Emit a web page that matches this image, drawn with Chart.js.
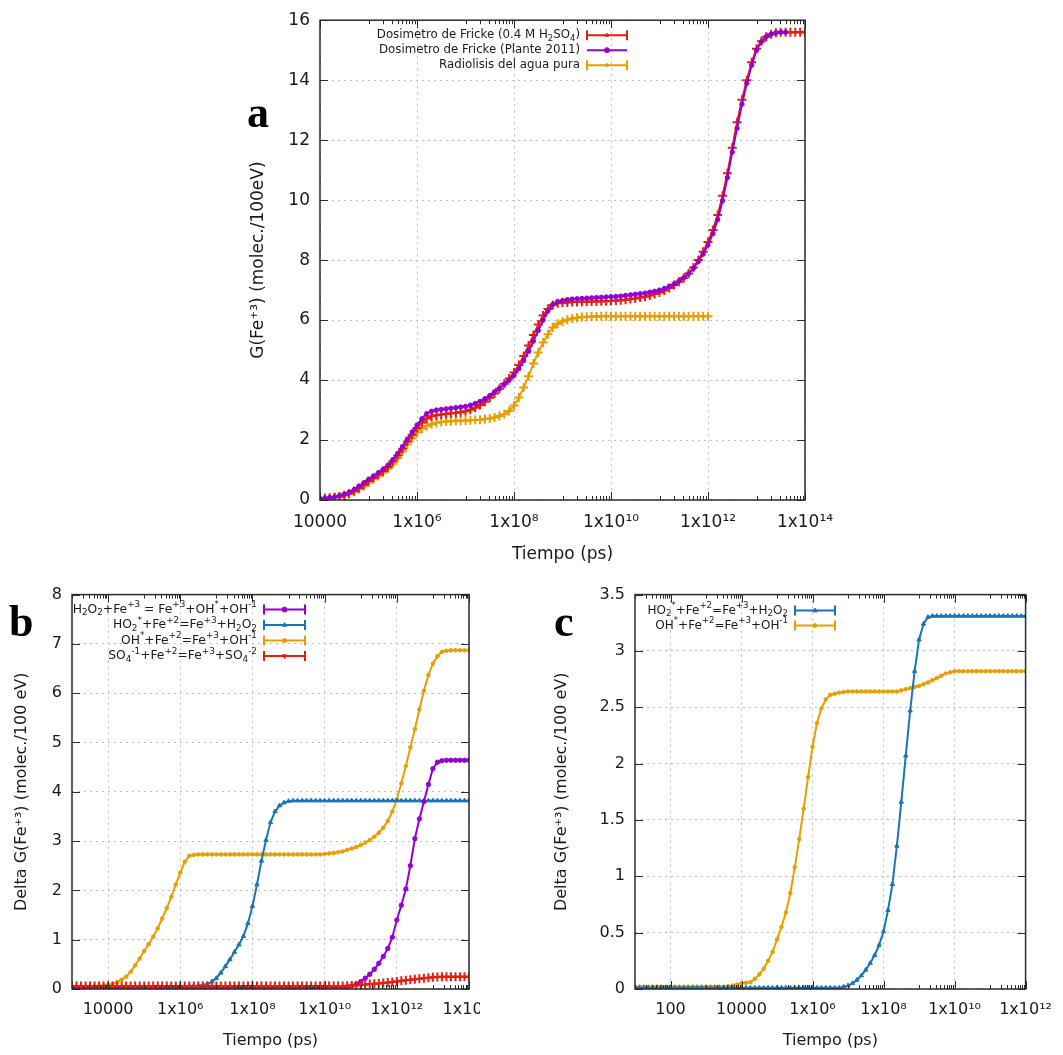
<!DOCTYPE html>
<html>
<head>
<meta charset="utf-8">
<script src="https://cdn.jsdelivr.net/npm/chart.js@4.4.1/dist/chart.umd.min.js"></script>
<style>
  body { margin: 0; background: #fff; }
  #page { position: relative; width: 1063px; height: 1055px; overflow: hidden; background: #fff; }
  .box { position: absolute; overflow: hidden; }
  .tag { position: absolute; font-family: "Liberation Serif", "DejaVu Serif", serif; font-weight: bold; font-size: 44px; line-height: 1; color: #000; }
</style>
</head>
<body>
<div id="page">
  <div class="box" style="left:240px;top:0;width:620px;height:570px"><canvas id="chartA" width="620" height="570"></canvas></div>
  <div class="box" style="left:0;top:575px;width:480px;height:480px"><canvas id="chartB" width="520" height="480"></canvas></div>
  <div class="box" style="left:540px;top:575px;width:523px;height:480px"><canvas id="chartC" width="523" height="480"></canvas></div>
  <div class="tag" style="left:247px;top:91px">a</div>
  <div class="tag" style="left:9px;top:600px">b</div>
  <div class="tag" style="left:554px;top:600px">c</div>
</div>
<script>
// log10 of time (ps) at which each point was sampled
const expA = [
    4,4.1,4.2,4.3,4.4,4.5,4.6,4.7,4.8,4.9,
    5,5.1,5.2,5.3,5.4,5.5,5.6,5.7,5.8,5.9,
    6,6.1,6.2,6.3,6.4,6.5,6.6,6.7,6.8,6.9,
    7,7.1,7.2,7.3,7.4,7.5,7.6,7.7,7.8,7.9,
    8,8.1,8.2,8.3,8.4,8.5,8.6,8.7,8.8,8.9,
    9,9.1,9.2,9.3,9.4,9.5,9.6,9.7,9.8,9.9,
    10,10.1,10.2,10.3,10.4,10.5,10.6,10.7,10.8,10.9,
    11,11.1,11.2,11.3,11.4,11.5,11.6,11.7,11.8,11.9,
    12,12.1,12.2,12.3,12.4,12.5,12.6,12.7,12.8,12.9,
    13,13.1,13.2,13.3,13.4,13.5,13.6,13.7,13.8,13.9,
    14];
const expB = [
    3,3.125,3.25,3.375,3.5,3.625,3.75,3.875,
    4,4.125,4.25,4.375,4.5,4.625,4.75,4.875,
    5,5.125,5.25,5.375,5.5,5.625,5.75,5.875,
    6,6.125,6.25,6.375,6.5,6.625,6.75,6.875,
    7,7.125,7.25,7.375,7.5,7.625,7.75,7.875,
    8,8.125,8.25,8.375,8.5,8.625,8.75,8.875,
    9,9.125,9.25,9.375,9.5,9.625,9.75,9.875,
    10,10.125,10.25,10.375,10.5,10.625,10.75,10.875,
    11,11.125,11.25,11.375,11.5,11.625,11.75,11.875,
    12,12.125,12.25,12.375,12.5,12.625,12.75,12.875,
    13,13.125,13.25,13.375,13.5,13.625,13.75,13.875,
    14];
const expC = [
    1,1.125,1.25,1.375,1.5,1.625,1.75,1.875,
    2,2.125,2.25,2.375,2.5,2.625,2.75,2.875,
    3,3.125,3.25,3.375,3.5,3.625,3.75,3.875,
    4,4.125,4.25,4.375,4.5,4.625,4.75,4.875,
    5,5.125,5.25,5.375,5.5,5.625,5.75,5.875,
    6,6.125,6.25,6.375,6.5,6.625,6.75,6.875,
    7,7.125,7.25,7.375,7.5,7.625,7.75,7.875,
    8,8.125,8.25,8.375,8.5,8.625,8.75,8.875,
    9,9.125,9.25,9.375,9.5,9.625,9.75,9.875,
    10,10.125,10.25,10.375,10.5,10.625,10.75,10.875,
    11,11.125,11.25,11.375,11.5,11.625,11.75,11.875,
    12];

// chart a: G(Fe+3)
const frickeH2SO4 = [
    0.05,0.06,0.07,0.09,0.12,0.16,0.22,0.3,0.4,0.51,
    0.63,0.74,0.85,0.97,1.1,1.28,1.48,1.71,1.95,2.18,
    2.4,2.58,2.72,2.79,2.83,2.85,2.87,2.89,2.91,2.93,
    2.96,3.01,3.08,3.17,3.28,3.41,3.55,3.71,3.88,4.05,
    4.25,4.5,4.8,5.15,5.5,5.85,6.15,6.37,6.5,6.56,
    6.58,6.59,6.6,6.6,6.61,6.61,6.62,6.62,6.63,6.63,
    6.64,6.65,6.66,6.68,6.7,6.72,6.75,6.78,6.82,6.87,
    6.92,6.99,7.07,7.17,7.28,7.4,7.55,7.75,8.0,8.28,
    8.6,9.0,9.5,10.15,10.9,11.75,12.6,13.35,14.0,14.6,
    15.05,15.3,15.45,15.53,15.58,15.6,15.6,15.6,15.6,15.6,
    15.6];
const frickePlante = [
    0.05,0.06,0.08,0.1,0.14,0.19,0.25,0.34,0.45,0.56,
    0.68,0.79,0.9,1.02,1.15,1.34,1.55,1.78,2.03,2.27,
    2.5,2.71,2.88,2.96,3.0,3.02,3.04,3.06,3.08,3.1,
    3.12,3.16,3.22,3.29,3.38,3.48,3.6,3.72,3.86,4.0,
    4.15,4.38,4.65,4.96,5.3,5.65,6.0,6.3,6.52,6.61,
    6.65,6.68,6.7,6.71,6.72,6.73,6.74,6.75,6.76,6.77,
    6.78,6.79,6.8,6.82,6.84,6.86,6.88,6.9,6.93,6.96,
    7.0,7.05,7.12,7.2,7.3,7.41,7.55,7.73,7.95,8.2,
    8.5,8.88,9.35,9.98,10.75,11.6,12.4,13.2,13.9,14.5,
    15.0,15.28,15.45,15.53,15.58,15.6,15.6];
const aguaPura = [
    0.05,0.06,0.07,0.09,0.11,0.15,0.2,0.27,0.36,0.46,
    0.58,0.69,0.8,0.91,1.04,1.21,1.4,1.62,1.85,2.06,
    2.25,2.38,2.47,2.53,2.58,2.6,2.62,2.63,2.64,2.645,
    2.65,2.66,2.67,2.68,2.7,2.72,2.75,2.8,2.86,2.97,
    3.15,3.42,3.75,4.13,4.55,4.92,5.25,5.53,5.75,5.88,
    5.95,6.01,6.05,6.08,6.1,6.11,6.12,6.12,6.13,6.13,
    6.13,6.13,6.13,6.13,6.13,6.13,6.13,6.13,6.13,6.13,
    6.13,6.13,6.13,6.13,6.13,6.13,6.13,6.13,6.13,6.13,
    6.13];

// chart b: Delta G(Fe+3) per reaction, Fricke
const bH2O2 = [
    0.02,0.02,0.02,0.02,0.02,0.02,0.02,0.02,
    0.02,0.02,0.02,0.02,0.02,0.02,0.02,0.02,
    0.02,0.02,0.02,0.02,0.02,0.02,0.02,0.02,
    0.02,0.02,0.02,0.02,0.02,0.02,0.02,0.02,
    0.02,0.02,0.02,0.02,0.02,0.02,0.02,0.02,
    0.02,0.02,0.02,0.02,0.02,0.02,0.02,0.02,
    0.02,0.02,0.02,0.02,0.02,0.02,0.02,0.02,
    0.02,0.02,0.02,0.02,0.02,0.04,0.06,0.1,
    0.15,0.22,0.3,0.4,0.52,0.66,0.82,1.05,
    1.4,1.7,2.03,2.5,3.05,3.45,3.8,4.15,
    4.47,4.6,4.63,4.64,4.64,4.64,4.64,4.64,
    4.64];
const bHO2 = [
    0.03,0.03,0.03,0.03,0.03,0.03,0.03,0.03,
    0.03,0.03,0.03,0.03,0.03,0.03,0.03,0.03,
    0.03,0.03,0.03,0.03,0.035,0.04,0.04,0.045,
    0.05,0.055,0.06,0.065,0.07,0.08,0.1,0.15,
    0.22,0.33,0.46,0.6,0.75,0.9,1.07,1.33,
    1.68,2.12,2.6,3.02,3.38,3.6,3.72,3.78,
    3.81,3.82,3.82,3.82,3.82,3.82,3.82,3.82,
    3.82,3.82,3.82,3.82,3.82,3.82,3.82,3.82,
    3.82,3.82,3.82,3.82,3.82,3.82,3.82,3.82,
    3.82,3.82,3.82,3.82,3.82,3.82,3.82,3.82,
    3.82,3.82,3.82,3.82,3.82,3.82,3.82,3.82,
    3.82];
const bOH = [
    0.05,0.05,0.05,0.05,0.05,0.055,0.06,0.07,
    0.08,0.1,0.14,0.19,0.25,0.35,0.48,0.62,
    0.77,0.91,1.06,1.23,1.43,1.64,1.87,2.12,
    2.36,2.58,2.7,2.72,2.73,2.73,2.73,2.73,
    2.73,2.73,2.73,2.73,2.73,2.73,2.73,2.73,
    2.73,2.73,2.73,2.73,2.73,2.73,2.73,2.73,
    2.73,2.73,2.73,2.73,2.73,2.73,2.73,2.73,
    2.74,2.75,2.76,2.775,2.79,2.82,2.85,2.88,
    2.92,2.97,3.02,3.09,3.17,3.27,3.41,3.6,
    3.85,4.17,4.52,4.9,5.27,5.67,6.05,6.37,
    6.6,6.75,6.84,6.86,6.87,6.87,6.87,6.87,
    6.87];
const bSO4 = [
    0.06,0.06,0.06,0.06,0.06,0.06,0.06,0.06,
    0.06,0.06,0.06,0.06,0.06,0.06,0.06,0.06,
    0.06,0.06,0.06,0.06,0.06,0.06,0.06,0.06,
    0.06,0.06,0.06,0.06,0.06,0.06,0.06,0.06,
    0.06,0.06,0.06,0.06,0.06,0.06,0.06,0.06,
    0.06,0.06,0.06,0.06,0.06,0.06,0.06,0.06,
    0.06,0.06,0.06,0.06,0.06,0.06,0.06,0.06,
    0.06,0.06,0.06,0.06,0.06,0.065,0.07,0.075,
    0.08,0.09,0.1,0.105,0.11,0.12,0.13,0.14,
    0.15,0.165,0.18,0.19,0.2,0.21,0.22,0.23,
    0.24,0.245,0.25,0.25,0.25,0.25,0.25,0.25,
    0.25];

// chart c: Delta G(Fe+3) per reaction, pure water
const cHO2 = [
    0.01,0.01,0.01,0.01,0.01,0.01,0.01,0.01,
    0.01,0.01,0.01,0.01,0.01,0.01,0.01,0.01,
    0.01,0.01,0.01,0.01,0.01,0.01,0.01,0.01,
    0.01,0.01,0.01,0.01,0.01,0.01,0.01,0.01,
    0.01,0.01,0.01,0.01,0.01,0.01,0.01,0.01,
    0.01,0.01,0.01,0.01,0.01,0.01,0.01,0.02,
    0.03,0.05,0.08,0.12,0.17,0.23,0.3,0.39,
    0.51,0.7,0.93,1.27,1.66,2.07,2.47,2.82,
    3.1,3.24,3.3,3.31,3.31,3.31,3.31,3.31,
    3.31,3.31,3.31,3.31,3.31,3.31,3.31,3.31,
    3.31,3.31,3.31,3.31,3.31,3.31,3.31,3.31,
    3.31];
const cOH = [
    0.02,0.02,0.02,0.02,0.02,0.02,0.02,0.02,
    0.02,0.02,0.02,0.02,0.02,0.02,0.02,0.02,
    0.02,0.02,0.02,0.02,0.02,0.025,0.03,0.04,
    0.05,0.055,0.06,0.09,0.13,0.18,0.25,0.33,
    0.44,0.55,0.68,0.85,1.08,1.33,1.6,1.88,
    2.15,2.36,2.49,2.57,2.61,2.62,2.63,2.635,
    2.64,2.64,2.64,2.64,2.64,2.64,2.64,2.64,
    2.64,2.64,2.64,2.64,2.65,2.66,2.67,2.68,
    2.69,2.705,2.72,2.74,2.76,2.78,2.8,2.81,
    2.82,2.82,2.82,2.82,2.82,2.82,2.82,2.82,
    2.82,2.82,2.82,2.82,2.82,2.82,2.82,2.82,
    2.82];

const ticksA = [1e4, 1e6, 1e8, 1e10, 1e12, 1e14];
const ticksB = [1e4, 1e6, 1e8, 1e10, 1e12, 1e14];
const ticksC = [1e2, 1e4, 1e6, 1e8, 1e10, 1e12];

const PURPLE = "#9400d3", RED = "#e51e10", ORANGE = "#e69f00", BLUE = "#1a74b8";
const FONT = '"DejaVu Sans", sans-serif';
const TXT = "#1a1a1a";

const pts = (ex, ys) => ys.map((v, i) => ({ x: Math.pow(10, ex[i]), y: v }));

const SUP = "⁰¹²³⁴⁵⁶⁷⁸⁹";
function fmtTick(v) {
    const e = Math.round(Math.log10(v));
    if (e < 5) return String(Math.round(v));
    return "1x10" + String(e).split("").map(d => SUP[+d]).join("");
}

// gnuplot style enhanced text: ^{..} superscript, _{..} subscript
function drawRich(ctx, str, x, y, size) {
    const parts = [];
    let i = 0;
    while (i < str.length) {
        const c = str[i];
        if (c === "^" || c === "_") {
            let t;
            if (str[i + 1] === "{") {
                const j = str.indexOf("}", i);
                t = str.slice(i + 2, j);
                i = j + 1;
            } else {
                t = str[i + 1];
                i += 2;
            }
            parts.push({ t: t, s: c });
        } else {
            let j = i;
            while (j < str.length && str[j] !== "^" && str[j] !== "_") j++;
            parts.push({ t: str.slice(i, j), s: "" });
            i = j;
        }
    }
    const font = s => (s ? size * 0.72 : size) + "px " + FONT;
    let w = 0;
    parts.forEach(p => { ctx.font = font(p.s); p.w = ctx.measureText(p.t).width; w += p.w; });
    let cx = x - w;
    ctx.textAlign = "left";
    ctx.textBaseline = "middle";
    parts.forEach(p => {
        ctx.font = font(p.s);
        const dy = p.s === "^" ? -size * 0.38 : p.s === "_" ? size * 0.28 : 0;
        ctx.fillText(p.t, cx, y + dy);
        cx += p.w;
    });
}

// key in the gnuplot layout: text right aligned, sample to its right
const gpLegend = {
    id: "gpLegend",
    afterDatasetsDraw(chart, args, opts) {
        const { ctx, chartArea } = chart;
        ctx.save();
        opts.items.forEach((it, i) => {
            const ds = chart.data.datasets[it.ds];
            const y = chartArea.top + opts.top + i * opts.step;
            const xr = chartArea.left + opts.right;
            ctx.fillStyle = TXT;
            drawRich(ctx, it.text, xr, y, opts.size);
            const x0 = xr + 7, x1 = x0 + opts.len;
            ctx.strokeStyle = ds.borderColor;
            ctx.lineWidth = 2;
            ctx.beginPath();
            ctx.moveTo(x0, y);
            ctx.lineTo(x1, y);
            if (it.caps) {
                ctx.moveTo(x0, y - 5); ctx.lineTo(x0, y + 5);
                ctx.moveTo(x1, y - 5); ctx.lineTo(x1, y + 5);
            }
            ctx.stroke();
            ctx.fillStyle = ds.borderColor;
            ctx.lineWidth = 1;
            Chart.helpers.drawPoint(ctx, { pointStyle: it.mark, radius: it.r, rotation: it.rot || 0, borderWidth: 1 }, (x0 + x1) / 2, y);
        });
        ctx.restore();
    }
};

// border box and inward tics; minor tics only in the unlabelled decades
const gpFrame = {
    id: "gpFrame",
    afterDatasetsDraw(chart) {
        const { ctx, chartArea: a, scales } = chart;
        const x = scales.x, y = scales.y;
        ctx.save();
        ctx.strokeStyle = "#2b2b2b";
        ctx.lineWidth = 1;
        ctx.beginPath();
        y.ticks.forEach(t => {
            const py = Math.round(y.getPixelForValue(t.value)) + 0.5;
            ctx.moveTo(a.left, py); ctx.lineTo(a.left + 8, py);
            ctx.moveTo(a.right, py); ctx.lineTo(a.right - 8, py);
        });
        const lo = Math.floor(Math.log10(x.min)), hi = Math.ceil(Math.log10(x.max));
        for (let k = lo; k <= hi; k++) {
            const ms = k % 2 === 0 ? [1] : [1, 2, 3, 4, 5, 6, 7, 8, 9];
            ms.forEach(m => {
                const v = m * Math.pow(10, k);
                if (v < x.min * 0.999 || v > x.max * 1.001) return;
                const px = Math.round(x.getPixelForValue(v)) + 0.5;
                const len = k % 2 === 0 ? 8 : 4;
                ctx.moveTo(px, a.bottom); ctx.lineTo(px, a.bottom - len);
                ctx.moveTo(px, a.top); ctx.lineTo(px, a.top + len);
            });
        }
        ctx.stroke();
        ctx.lineWidth = 1.5;
        ctx.strokeRect(a.left, a.top, a.right - a.left, a.bottom - a.top);
        ctx.restore();
    }
};

function series(label, data, color, style, r, order) {
    return {
        label: label,
        data: data,
        borderColor: color,
        backgroundColor: color,
        borderWidth: 2,
        pointStyle: style,
        pointRadius: r,
        pointBorderWidth: style === "cross" ? 2 : 1,
        pointBackgroundColor: color,
        pointBorderColor: color,
        tension: 0,
        order: order
    };
}

function makeChart(id, cfg) {
    const tickFont = { family: FONT, size: cfg.tickSize };
    const titleFont = { family: FONT, size: cfg.titleSize };
    return new Chart(document.getElementById(id), {
        type: "line",
        data: { datasets: cfg.datasets },
        options: {
            responsive: false,
            animation: false,
            events: [],
            layout: { padding: cfg.padding },
            plugins: {
                legend: { display: false },
                tooltip: { enabled: false },
                gpLegend: cfg.legend
            },
            scales: {
                x: {
                    type: "logarithmic",
                    min: cfg.xmin,
                    max: cfg.xmax,
                    afterBuildTicks: s => { s.ticks = cfg.xticks.map(v => ({ value: v })); },
                    afterFit: s => { s.height = cfg.xh; },
                    ticks: { callback: v => fmtTick(v), font: tickFont, color: TXT, padding: cfg.xpad, maxRotation: 0, autoSkip: false },
                    grid: { color: "#bdbdbd", lineWidth: 1, drawTicks: false },
                    border: { display: false, dash: [2, 4] },
                    title: { display: true, text: "Tiempo (ps)", font: titleFont, color: TXT, padding: { top: 0, bottom: cfg.xtitlePad } }
                },
                y: {
                    min: 0,
                    max: cfg.ymax,
                    afterFit: s => { s.width = cfg.yw; },
                    ticks: { stepSize: cfg.ystep, font: tickFont, color: TXT, padding: 10, callback: v => String(+(+v).toFixed(2)) },
                    grid: { color: "#bdbdbd", lineWidth: 1, drawTicks: false },
                    border: { display: false, dash: [2, 4] },
                    title: { display: true, text: cfg.ytitle, font: titleFont, color: TXT, padding: { top: cfg.ytitlePad, bottom: 0 } }
                }
            }
        },
        plugins: [gpFrame, gpLegend]
    });
}

makeChart("chartA", {
    datasets: [
        series("Dosimetro de Fricke (0.4 M H2SO4)", pts(expA, frickeH2SO4), RED, "cross", 4.5, 1),
        series("Dosimetro de Fricke (Plante 2011)", pts(expA, frickePlante), PURPLE, "circle", 2.2, 0),
        series("Radiolisis del agua pura", pts(expA, aguaPura), ORANGE, "cross", 4.5, 2)
    ],
    padding: { left: 0, top: 20, right: 55, bottom: 0 },
    xmin: 1e4, xmax: 1e14, xticks: ticksA, xh: 70, xpad: 12, xtitlePad: 5,
    ymax: 16, ystep: 2, yw: 80, ytitlePad: 8,
    tickSize: 17, titleSize: 17,
    ytitle: "G(Fe⁺³) (molec./100eV)",
    legend: {
        top: 15, step: 15, right: 260, len: 40, size: 11.8,
        items: [
            { ds: 0, text: "Dosimetro de Fricke (0.4 M H_2SO_4)", caps: true, mark: "triangle", r: 2 },
            { ds: 1, text: "Dosimetro de Fricke (Plante 2011)", caps: false, mark: "circle", r: 2.5 },
            { ds: 2, text: "Radiolisis del agua pura", caps: true, mark: "circle", r: 1.5 }
        ]
    }
});

makeChart("chartB", {
    datasets: [
        series("H2O2+Fe+3", pts(expB, bH2O2), PURPLE, "circle", 2.2, 1),
        series("HO2+Fe+2", pts(expB, bHO2), BLUE, "triangle", 2.5, 2),
        series("OH+Fe+2", pts(expB, bOH), ORANGE, "circle", 1.8, 3),
        series("SO4+Fe+2", pts(expB, bSO4), RED, "cross", 4.5, 0)
    ],
    padding: { left: 0, top: 19, right: 51, bottom: 0 },
    xmin: 1e3, xmax: 1e14, xticks: ticksB, xh: 66, xpad: 11, xtitlePad: 5,
    ymax: 8, ystep: 1, yw: 72, ytitlePad: 12,
    tickSize: 16, titleSize: 16,
    ytitle: "Delta G(Fe⁺³) (molec./100 eV)",
    legend: {
        top: 15, step: 15.5, right: 185, len: 41, size: 12.3,
        items: [
            { ds: 0, text: "H_2O_2+Fe^{+3} = Fe^{+3}+OH^*+OH^{-1}", caps: true, mark: "circle", r: 2.5 },
            { ds: 1, text: "HO_2^*+Fe^{+2}=Fe^{+3}+H_2O_2", caps: true, mark: "triangle", r: 2.5 },
            { ds: 2, text: "OH^*+Fe^{+2}=Fe^{+3}+OH^{-1}", caps: true, mark: "circle", r: 2 },
            { ds: 3, text: "SO_4^{-1}+Fe^{+2}=Fe^{+3}+SO_4^{-2}", caps: true, mark: "triangle", r: 2.5, rot: 180 }
        ]
    }
});

makeChart("chartC", {
    datasets: [
        series("HO2+Fe+2", pts(expC, cHO2), BLUE, "triangle", 2.5, 0),
        series("OH+Fe+2", pts(expC, cOH), ORANGE, "circle", 1.8, 1)
    ],
    padding: { left: 0, top: 19, right: 32, bottom: 0 },
    xmin: 1e1, xmax: 1e12, xticks: ticksC, xh: 66, xpad: 11, xtitlePad: 5,
    ymax: 3.5, ystep: 0.5, yw: 95, ytitlePad: 12,
    tickSize: 16, titleSize: 16,
    ytitle: "Delta G(Fe⁺³) (molec./100 eV)",
    legend: {
        top: 16, step: 15, right: 153, len: 40, size: 12,
        items: [
            { ds: 0, text: "HO_2^*+Fe^{+2}=Fe^{+3}+H_2O_2", caps: true, mark: "triangle", r: 2.5 },
            { ds: 1, text: "OH^*+Fe^{+2}=Fe^{+3}+OH^{-1}", caps: true, mark: "circle", r: 2 }
        ]
    }
});
</script>
</body>
</html>
